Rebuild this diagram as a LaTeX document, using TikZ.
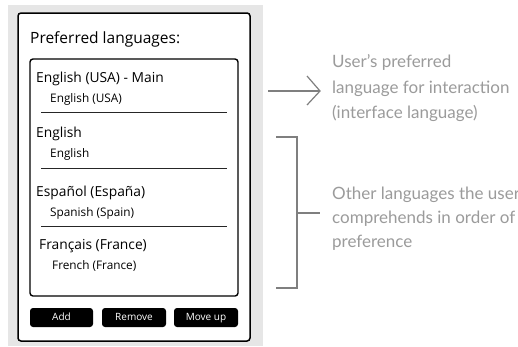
\documentclass[tikz,border=0pt]{standalone}
\usepackage{fontspec}
\setmainfont{Open Sans}
\newfontfamily\notefont{Lato}
\usetikzlibrary{arrows.meta}
\definecolor{bggray}{HTML}{E6E6E6}
\definecolor{notegray}{HTML}{9B9B9B}
\definecolor{linegray}{HTML}{7F7F7F}
\tikzset{
  panel/.style={draw=black, line width=1.5pt, fill=white, rounded corners=3pt},
  listbox/.style={draw=black, line width=1.4pt, fill=white, rounded corners=3pt},
  sep/.style={draw=black!85, line width=1pt},
  itemmain/.style={anchor=base west, inner sep=0pt, font=\fontsize{13.8}{16}\selectfont},
  itemsub/.style={anchor=base west, inner sep=0pt, font=\fontsize{11.8}{14}\selectfont},
  btn/.style={fill=black, rounded corners=3pt, text=white, inner sep=0pt,
    text height=7.5pt, text depth=2pt, font=\fontsize{10}{12}\selectfont},
  note/.style={anchor=base west, inner sep=0pt, text=notegray,
    font=\notefont\fontsize{17}{24.8}\selectfont},
  guide/.style={draw=linegray, line width=1.2pt},
}
\begin{document}
\begin{tikzpicture}[x=1pt,y=-1pt]
\useasboundingbox (0,0) rectangle (518,346);
\fill[white] (0,0) rectangle (518,346);
\fill[bggray] (8,5) rectangle (263,346);
\draw[panel] (18,13) rectangle (250,341);
\node[anchor=base west, inner sep=0pt, font=\fontsize{15.5}{18}\selectfont] (title) at (30,43) {Preferred languages:};
\draw[listbox] (30,59) rectangle (238,296);
\node[itemmain] (m1) at (36,82) {English (USA) - Main};
\node[itemsub] (s1) at (50,102) {English (USA)};
\draw[sep] (41,112) -- (227,112);
\node[itemmain] (m2) at (36,137) {English};
\node[itemsub] (s2) at (50,157) {English};
\draw[sep] (41,168) -- (227,168);
\node[itemmain] (m3) at (36,196) {Español (España)};
\node[itemsub] (s3) at (50,216) {Spanish (Spain)};
\draw[sep] (41,226) -- (227,226);
\node[itemmain] (m4) at (39,249) {Français (France)};
\node[itemsub] (s4) at (52,269) {French (France)};
\node[btn, minimum width=63pt, minimum height=19pt] (add) at (61.5,317.5) {Add};
\node[btn, minimum width=64pt, minimum height=19pt] (remove) at (134,317.5) {Remove};
\node[btn, minimum width=64pt, minimum height=19pt] (moveup) at (206,317.5) {Move up};
% notes
\node[note] (n1a) at (332,67) {User’s preferred};
\node[note] (n1b) at (332,93) {language for interaction};
\node[note] (n1c) at (332,118) {(interface language)};
\node[note] (n2a) at (332,199) {Other languages the user};
\node[note] (n2b) at (332,223) {comprehends in order of};
\node[note] (n2c) at (332,247) {preference};
\coordinate (a0) at (268,91);
\coordinate (a1) at (320,91);
\draw[guide] (a0) -- (a1);
\draw[guide, line join=miter] (307,76) -- (a1) -- (307,105);
\coordinate (bt) at (297,137);
\coordinate (bb) at (297,288);
\coordinate (bm) at (297,213);
\draw[guide] (276,137) -- (bt) -- (bb) -- (276,288);
\draw[guide] (bm) -- (320,213);
\end{tikzpicture}
\end{document}
